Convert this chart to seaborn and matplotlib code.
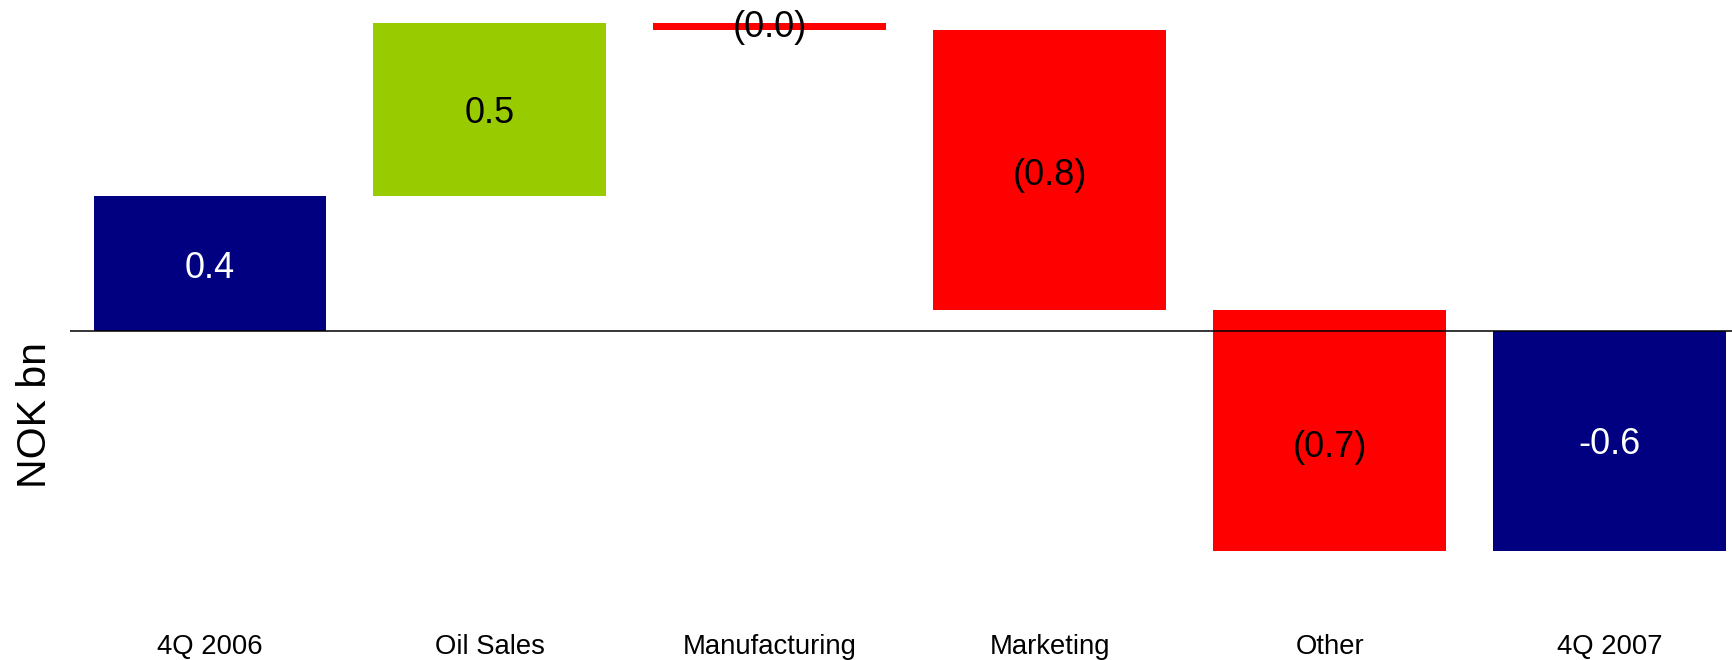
import matplotlib
matplotlib.use("Agg")
import matplotlib.pyplot as plt
import matplotlib.transforms as mtransforms
import seaborn as sns
import numpy as np

# Bridge from 4Q 2006 to 4Q 2007 result (NOK bn)
categories = ["4Q 2006", "Oil Sales", "Manufacturing", "Marketing", "Other", "4Q 2007"]
start_value = 0.39
changes = [0.50, -0.02, -0.81, -0.70]
end_value = start_value + sum(changes)

TOTAL_COLOR = "#000080"
UP_COLOR = "#99CC00"
DOWN_COLOR = "#FF0000"

sns.set_theme(style="white")
plt.rcParams["font.family"] = ["Liberation Sans", "DejaVu Sans"]

# floating bar geometry for the waterfall
heights = [start_value]
bottoms = [0.0]
running = start_value
for c in changes:
    if c >= 0:
        bottoms.append(running)
        heights.append(c)
    else:
        bottoms.append(running + c)
        heights.append(-c)
    running += c
if end_value >= 0:
    bottoms.append(0.0)
    heights.append(end_value)
else:
    bottoms.append(end_value)
    heights.append(-end_value)

colors = [TOTAL_COLOR] + [UP_COLOR if c >= 0 else DOWN_COLOR for c in changes] + [TOTAL_COLOR]

def fmt_total(v):
    return f"{v:.1f}"

def fmt_change(v):
    return f"({abs(v):.1f})" if v < 0 else f"{v:.1f}"

labels = [fmt_total(start_value)] + [fmt_change(c) for c in changes] + [fmt_total(end_value)]
label_colors = ["white"] + ["black"] * len(changes) + ["white"]
# vertical nudge of each value label, in points
label_nudge = [-1, -0.2, 2.4, -1.2, -9.4, 0.6]

fig = plt.figure(figsize=(17.33, 6.6), dpi=100)
ax = fig.add_axes([70 / 1733, 60 / 660, 1 - 70 / 1733, 600 / 660])

sns.barplot(x=categories, y=heights, bottom=bottoms, width=0.832,
            errorbar=None, saturation=1, color=TOTAL_COLOR, linewidth=0, ax=ax)
for patch, col in zip(ax.patches, colors):
    patch.set_facecolor(col)
    patch.set_edgecolor("none")

ax.axhline(0, color="black", linewidth=1.1, zorder=3)

for i, (b, h, lab, lc, dy) in enumerate(zip(bottoms, heights, labels, label_colors, label_nudge)):
    tr = mtransforms.offset_copy(ax.transData, fig=fig, x=0, y=dy, units="points")
    ax.text(i, b + h / 2, lab, ha="center", va="center_baseline", fontsize=26,
            color=lc, zorder=4, transform=tr)

ax.set_xlim(-0.5, 5.441)
ax.set_ylim(-0.781, 0.958)
ax.set_yticks([])
ax.tick_params(axis="x", length=0, pad=24.5, labelsize=19.8, colors="black")
for s in ax.spines.values():
    s.set_visible(False)
ax.set_xlabel("")
ax.set_ylabel("")

fig.text(35 / 1733, 1 - 415 / 660, "NOK bn", rotation=90, ha="center",
         va="center", fontsize=29.5, color="black")

fig.savefig("out.png", dpi=100)
